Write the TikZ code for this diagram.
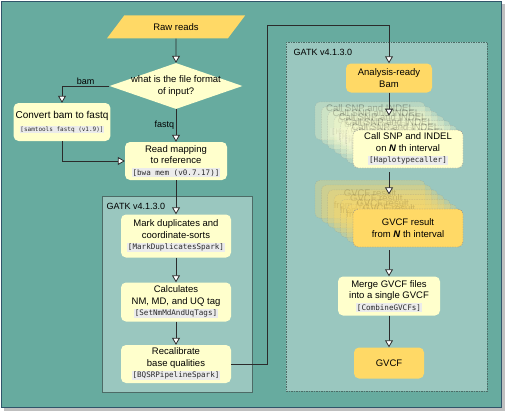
\documentclass[tikz,border=0pt]{standalone}
\usepackage{fontspec}
\setmainfont{Liberation Sans}
\setmonofont{DejaVu Sans Mono}
\usetikzlibrary{arrows.meta, shapes.geometric, calc}

\definecolor{tealbg}{HTML}{67AB9F}
\definecolor{gatkfill}{HTML}{9AC7BF}
\definecolor{gatkline}{HTML}{4D6B66}
\definecolor{paleyel}{HTML}{FFFFCC}
\definecolor{gold}{HTML}{FFD966}
\definecolor{wire}{HTML}{2B2B2B}
\definecolor{codebg}{HTML}{EBEBEB}
\definecolor{framedk}{HTML}{30556A}

\newcommand{\toolname}[2][7.6]{{\setlength{\fboxsep}{0.8pt}\colorbox{codebg}{\color{wire}\ttfamily\fontsize{#1}{#1}\selectfont #2}}}

\begin{document}
\begin{tikzpicture}[x=1pt,y=-1pt,inner sep=2pt,>={Triangle[length=7pt,width=8pt,fill=white]},
  stepbox/.style={fill=paleyel,rounded corners=5pt,align=center,font=\fontsize{9.5}{11.5}\selectfont},
  goldbox/.style={stepbox,fill=gold},
  ghost/.style={draw=wire!55,dash pattern=on 1.5pt off 1pt,opacity=0.3},
  flow/.style={->,draw=wire,line width=0.8pt},
  gatkbox/.style={fill=gatkfill,draw=gatkline,line width=0.6pt,anchor=north west,inner sep=0pt},
  tag/.style={font=\fontsize{9}{10}\selectfont,inner sep=1.5pt}]
\useasboundingbox (0,0) rectangle (505,412);
% frame
\fill [black!25] (4,4) rectangle (505,411);
\draw [fill=tealbg,draw=framedk,line width=0.8pt] (1,1) rectangle (501,407);

% gatk groups
\draw node [gatkbox,minimum width=150pt,minimum height=196pt] at (102,196) (gatkA) {};
\draw node [gatkbox,minimum width=201pt,minimum height=349pt,dash pattern=on 1.5pt off 1pt] at (286,42) (gatkB) {};
\draw node [tag,anchor=west] at (105,206) (gatkAlbl) {GATK v4.1.3.0};
\draw node [tag,anchor=west] at (292,52) (gatkBlbl) {GATK v4.1.3.0};

% input side
\draw node [goldbox,sharp corners,trapezium,trapezium left angle=53,trapezium right angle=127,minimum width=92pt,minimum height=23pt] at (176,27) (raw) {Raw reads};
\draw node [diamond,fill=paleyel,minimum width=133pt,minimum height=46pt,inner sep=0pt] at (176,86) (fmt) {};
\draw node [align=center,font=\fontsize{9.5}{11.5}\selectfont] at (fmt.center) (fmttxt) {what is the file format\\of input?};
\draw node [stepbox,minimum width=93pt,minimum height=38pt,font=\fontsize{10}{12}\selectfont] at (62,122) (bam2fq) {Convert bam to fastq\\[1pt]\toolname[6]{[samtools fastq (v1.9)]}};
\draw node [stepbox,minimum width=102pt,minimum height=38pt] at (176,161) (mapping) {Read mapping\\to reference\\\toolname{[bwa mem (v0.7.17)]}};

% preprocessing
\draw node [stepbox,minimum width=110pt,minimum height=43pt] at (176,236) (markdup) {Mark duplicates and\\coordinate-sorts\\\toolname{[MarkDuplicatesSpark]}};
\draw node [stepbox,minimum width=110pt,minimum height=39pt] at (176,302) (nmtags) {Calculates\\NM, MD, and UQ tag\\\toolname{[SetNmMdAndUqTags]}};
\draw node [stepbox,minimum width=110pt,minimum height=38pt] at (176,364) (bqsr) {Recalibrate\\base qualities\\\toolname{[BQSRPipelineSpark]}};

% calling
\draw node [goldbox,minimum width=86pt,minimum height=29pt] at (389,78) (ready) {Analysis-ready\\Bam};
\foreach \i in {6,...,1}
  \draw node [stepbox,ghost,minimum width=110pt,minimum height=38pt] at ({408-19/3*\i},{149-4.7*\i}) (snp\i) {Call SNP and INDEL\\on \textbf{\textit{N}} th interval\\\toolname{[Haplotypecaller]}};
\draw node [stepbox,draw=wire!55,dash pattern=on 1.5pt off 1pt,minimum width=110pt,minimum height=38pt] at (408,149) (snp) {Call SNP and INDEL\\on \textbf{\textit{N}} th interval\\\toolname{[Haplotypecaller]}};
\foreach \i in {6,...,1}
  \draw node [goldbox,ghost,minimum width=110pt,minimum height=38pt] at ({408-19/3*\i},{228-4.8*\i}) (gv\i) {GVCF result\\from \textbf{\textit{N}} th interval};
\draw node [goldbox,draw=wire!55,dash pattern=on 1.5pt off 1pt,minimum width=110pt,minimum height=38pt] at (408,228) (gv) {GVCF result\\from \textbf{\textit{N}} th interval};
\draw node [stepbox,minimum width=102pt,minimum height=39pt] at (389,296) (merge) {Merge GVCF files\\into a single GVCF\\\toolname{[CombineGVCFs]}};
\draw node [goldbox,minimum width=70pt,minimum height=31pt] at (389,363) (final) {GVCF};

% connectors
\coordinate (turn) at (267,25);
\draw [flow] (raw.south) -- (fmt.north);
\draw [flow] (fmt.west) -| node [tag,pos=0.25,above] {bam} (bam2fq.north);
\draw [flow] (fmt.south) -- node [tag,left] {fastq} (mapping.north);
\draw [flow] (bam2fq.south) |- (mapping.west);
\draw [flow] (mapping.south) -- (markdup.north);
\draw [flow] (markdup.south) -- (nmtags.north);
\draw [flow] (nmtags.south) -- (bqsr.north);
\draw [flow] (bqsr.east) -| (turn) -| (ready.north);
\draw [flow] (ready.south) -- (snp3.north);
\draw [flow] ($(snp3 |- snp.south)+(0,4)$) -- (gv3.north);
\draw [flow] ($(gv3 |- gv.south)+(0,3)$) -- (merge.north);
\draw [flow] (merge.south) -- (final.north);
\end{tikzpicture}
\end{document}
